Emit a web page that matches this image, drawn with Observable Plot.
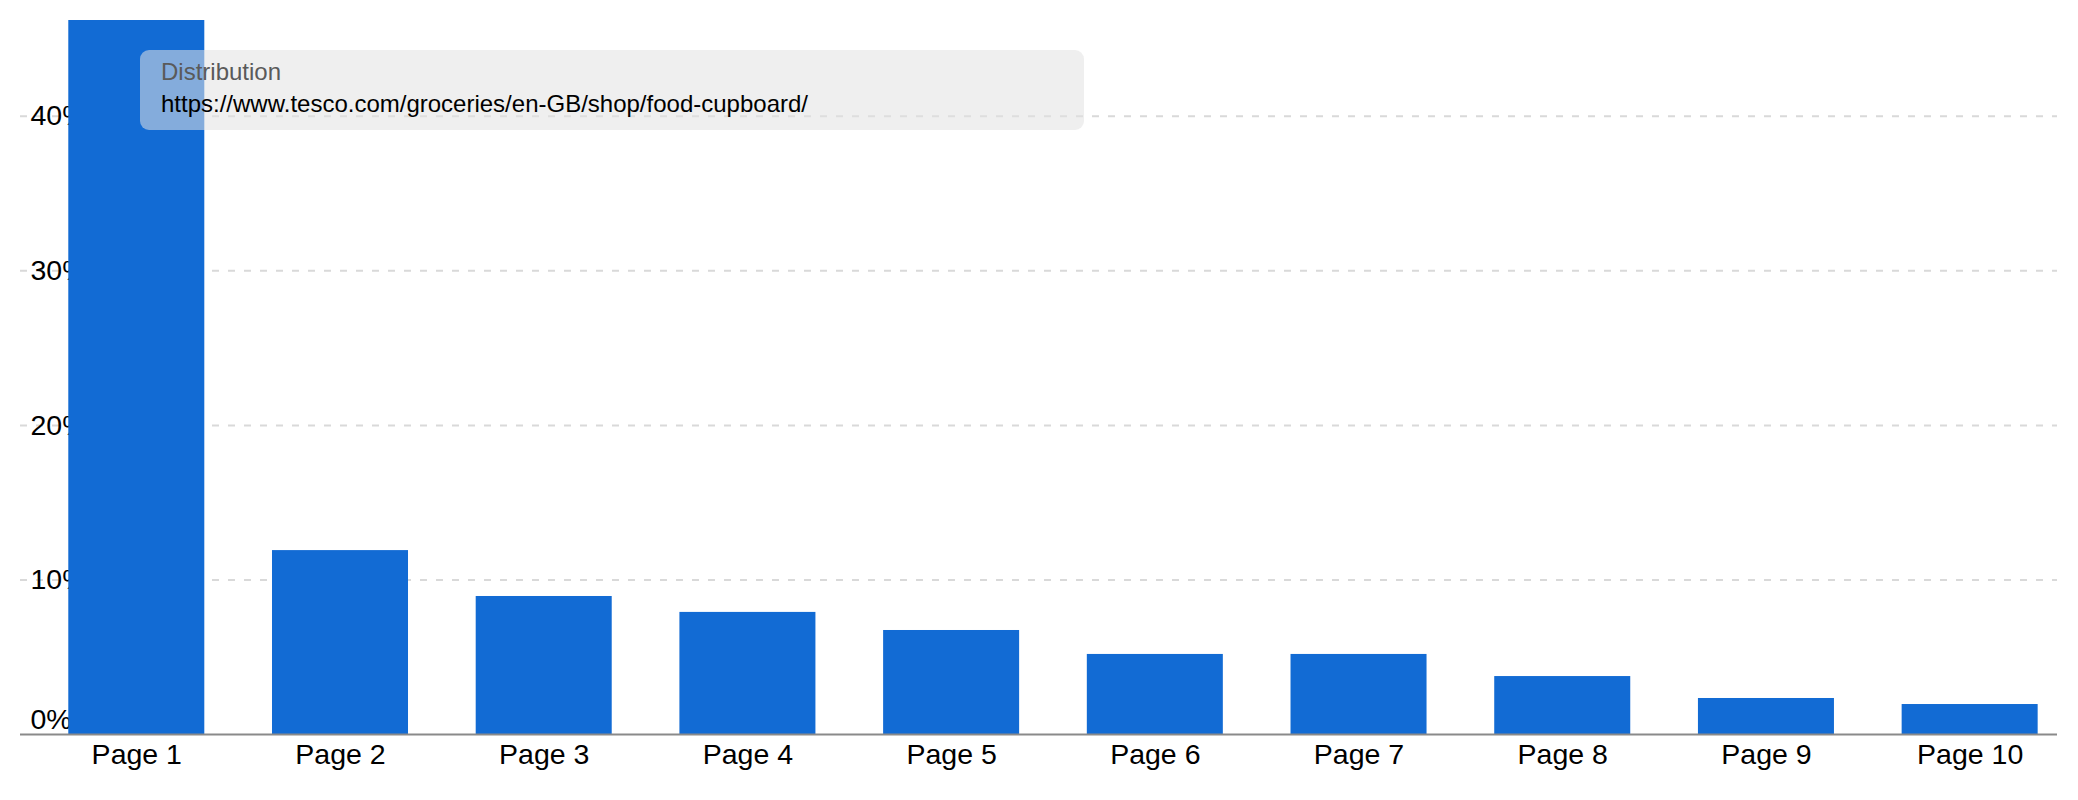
<!DOCTYPE html>
<html>
<head>
<meta charset="utf-8">
<script src="https://cdn.jsdelivr.net/npm/d3@7"></script>
<script src="https://cdn.jsdelivr.net/npm/@observablehq/plot@0.6"></script>
<style>
  html, body { margin: 0; padding: 0; background: #fff; }
  #wrap { position: relative; width: 2078px; height: 800px; font-family: "Liberation Sans", Arial, Helvetica, sans-serif; }
  #tip {
    position: absolute; left: 140px; top: 50px; width: 944px; height: 80px;
    box-sizing: border-box; border-radius: 9px;
    background: rgba(226, 226, 226, 0.55);
    padding: 6px 0 0 21px; font-size: 24px; line-height: 32px;
  }
  #tip .t { color: #5a5a5a; }
  #tip .u { color: #000; }
</style>
</head>
<body>
<div id="wrap">
  <div id="chart"></div>
  <div id="tip"><div class="t">Distribution</div><div class="u">https://www.tesco.com/groceries/en-GB/shop/food-cupboard/</div></div>
</div>
<script>
const pages = ["Page 1", "Page 2", "Page 3", "Page 4", "Page 5", "Page 6", "Page 7", "Page 8", "Page 9", "Page 10"];
const shares = [0.462, 0.119, 0.0893, 0.079, 0.0673, 0.0518, 0.0518, 0.0375, 0.0233, 0.0194];
const yTicks = [0.1, 0.2, 0.3, 0.4];
const yZero = [0];

const data = pages.map((p, i) => ({page: p, share: shares[i]}));
const fmt = d => `${Math.round(d * 100)}%`;
const FONT = 28.5;

const chart = Plot.plot({
  width: 2078,
  height: 800,
  marginTop: 20,
  marginBottom: 66,
  marginLeft: 20,
  marginRight: 21,
  style: {fontFamily: '"Liberation Sans", Arial, Helvetica, sans-serif', fontSize: FONT + "px", background: "#fff", color: "#000"},
  x: {domain: pages, paddingInner: 0.3323, paddingOuter: 0.166, align: 0.714, round: false, label: null},
  y: {domain: [0, 0.462], label: null},
  marks: [
    Plot.ruleY(yTicks, {stroke: "#d9d9d9", strokeWidth: 2, strokeDasharray: "7,9"}),
    Plot.text(yTicks, {y: d => d, text: fmt, frameAnchor: "left", textAnchor: "start", dx: 10, fill: "#000", fontSize: FONT}),
    Plot.text(yZero, {y: d => d, text: fmt, frameAnchor: "left", textAnchor: "start", dx: 10, dy: -15, fill: "#000", fontSize: FONT}),
    Plot.barY(data, {x: "page", y: "share", fill: "#126bd4"}),
    Plot.ruleY(yZero, {stroke: "#8a8a8a", strokeWidth: 2}),
    Plot.axisX({tickSize: 0, tickPadding: 9, fontSize: FONT, label: null}),
    Plot.axisY({ticks: [], tickSize: 0, label: null})
  ]
});
document.getElementById("chart").appendChild(chart);
</script>
</body>
</html>
